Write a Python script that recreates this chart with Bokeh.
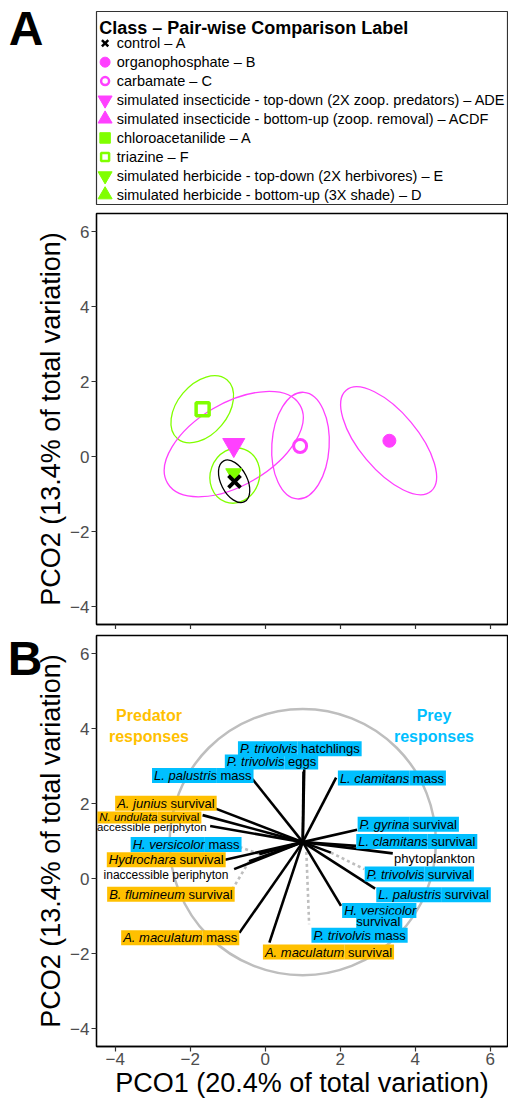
import math
from bokeh.plotting import figure
from bokeh.models import Range1d, FixedTicker, ColumnDataSource, LinearAxis
from bokeh.layouts import column
from bokeh.embed import file_html
from bokeh.resources import INLINE
from bokeh.core.properties import value

FONT = "Liberation Sans"

# ---------------- data: panel A (class centroids on PCO1 / PCO2) ----------------
classes = ["control", "organophosphate", "carbamate",
           "simulated insecticide - top-down (2X zoop. predators)",
           "simulated insecticide - bottom-up (zoop. removal)",
           "chloroacetanilide", "triazine",
           "simulated herbicide - top-down (2X herbivores)",
           "simulated herbicide - bottom-up (3X shade)"]
pairwise = ["A", "B", "C", "ADE", "ACDF", "A", "F", "E", "D"]
cent_x = [-0.82, 3.31, 0.93, -0.84, -0.84, -0.84, -1.67, -0.84, -0.84]
cent_y = [-0.67, 0.42, 0.28, 0.31, -0.48, -0.50, 1.26, -0.45, -0.48]

# confidence ellipses (class index, centre, full width/height, angle in degrees)
ell_class = [6, 3, 2, 1, 7, 0]
ell_x = [-1.68, -0.84, 0.94, 3.29, -0.81, -0.83]
ell_y = [1.26, 0.33, 0.29, 0.42, -0.51, -0.66]
ell_w = [2.05, 4.10, 2.85, 3.52, 1.49, 1.22]
ell_h = [1.34, 2.19, 1.53, 1.55, 1.31, 0.70]
ell_angle = [50, 30.5, 86.5, -50, 70, 117]

# ---------------- data: panel B (response vectors) ----------------
vec_origin = [1.00, 0.97]
var_italic = ["L. palustris", "A. junius", "N. undulata", "", "H. versicolor",
              "Hydrochara", "", "B. flumineum", "A. maculatum", "A. maculatum",
              "P. trivolvis", "H. versicolor", "L. palustris", "P. trivolvis", "",
              "L. clamitans", "P. gyrina", "L. clamitans", "P. trivolvis", "P. trivolvis"]
var_plain = ["mass", "survival", "survival", "accessible periphyton", "mass",
             "survival", "inaccessible periphyton", "survival", "mass", "survival",
             "mass", "survival", "survival", "survival", "phytoplankton",
             "survival", "survival", "mass", "hatchlings", "eggs"]
var_group = ["prey", "pred", "pred", "none", "prey",
             "pred", "none", "pred", "pred", "pred",
             "prey", "prey", "prey", "prey", "none",
             "prey", "prey", "prey", "prey", "prey"]
vec_x = [-0.34, -1.34, -1.67, -1.47, -0.16, -1.07, -0.83, -0.43, -0.69, 0.11,
         1.09, 2.02, 2.93, 1.75, 3.40, 2.42, 2.45, 1.89, 1.04, 1.02]
vec_y = [2.65, 1.87, 1.69, 1.40, 0.65, 0.50, 0.25, 0.46, -1.45, -1.71,
         0.87, -0.73, -0.27, 0.69, 0.67, 0.87, 1.30, 2.69, 2.92, 2.85]
lab_x = [-1.29, -2.62, -2.87, -4.57, -1.61, -2.38, -4.40, -2.14, -1.67, 2.11,
         2.82, 3.04, 4.69, 4.24, 3.34, 4.33, 3.84, 3.84, 0.86, 0.51]
lab_y = [2.75, 2.01, 1.63, 1.38, 0.91, 0.50, 0.09, -0.42, -1.58, -1.96,
         -1.51, -0.85, -0.43, 0.12, 0.54, 0.99, 1.45, 2.68, 3.46, 3.11]
lead_x = [None, None, None, None, -0.91, None, None, -0.87, None, None,
          1.17, None, None, 2.64, None, None, None, None, None, None]
lead_y = [None, None, None, None, 0.92, None, None, -0.28, None, None,
          -1.22, None, None, 0.25, None, None, None, None, None, None]
circle_r = 3.55
group_title = ["Predator", "responses", "Prey", "responses"]
group_title_x = [-3.10, -3.10, 4.50, 4.50]
group_title_y = [4.34, 3.80, 4.34, 3.80]

ticks = [-4, -2, 0, 2, 4, 6]
x_title = "PCO1 (20.4% of total variation)"
y_title = "PCO2 (13.4% of total variation)"
panel_letters = ["A", "B"]

# ---------------- styles ----------------
MAG, GRN = "#FF40FF", "#80FF00"
BLUE, ORNG = "#00BFFF", "#FFC000"
NBSP = "\u00a0"
cls_color = ["black", MAG, MAG, MAG, MAG, GRN, GRN, GRN, GRN]
cls_marker = ["x", "circle", "circle", "inverted_triangle", "triangle",
              "square", "square", "inverted_triangle", "triangle"]
cls_hollow = [False, False, True, False, False, False, True, False, False]
size_A = [17, 13, 13, 22, 9, 8, 13, 16, 9]
lw_A = [3.8, 1, 3, 1, 1, 1, 3.5, 1, 1]
size_leg = [9, 10, 8, 14, 14, 10.5, 8, 14, 14]
lw_leg = [2.5, 1, 2.5, 1, 1, 1, 2.5, 1, 1]
draw_order = [4, 8, 5, 7, 3, 6, 2, 1, 0]
lab_fs = [13, 13, 11.4, 11.4, 13, 13, 12, 13, 13, 13,
          13, 13, 13, 13, 13, 13, 13, 13, 13, 13]
lab_stack = [i == 11 for i in range(20)]
grp_bg = {"prey": BLUE, "pred": ORNG, "none": None}

FW, FH = 411, 411
XR = (-4.50, 6.46)
YR = (-4.48, 6.48)


def style_axes(p, show_x):
    p.outline_line_color = "black"
    p.outline_line_width = 1.3
    p.xgrid.visible = False
    p.ygrid.visible = False
    for ax in p.axis:
        ax.ticker = FixedTicker(ticks=ticks)
        ax.axis_line_color = "black"
        ax.axis_line_width = 1.3
        ax.major_tick_out = 5
        ax.major_tick_in = 0
        ax.major_tick_line_color = "#333333"
        ax.major_tick_line_width = 1.2
        ax.minor_tick_line_color = None
        ax.major_label_text_font = FONT
        ax.major_label_text_font_size = "17px"
        ax.major_label_text_color = "#4D4D4D"
        ax.major_label_standoff = 2
        ax.axis_label_text_font = FONT
        ax.axis_label_text_font_size = "27px"
        ax.axis_label_text_font_style = "normal"
        ax.axis_label_text_color = "black"
        ax.axis_label_standoff = 1
    p.yaxis.axis_label = y_title
    if show_x:
        p.xaxis.axis_label = x_title
        p.xaxis.major_label_standoff = 1
        p.xaxis.axis_label_standoff = 0
    else:
        p.xaxis.major_label_text_font_size = "1px"
        p.xaxis.major_label_text_color = None
        p.xaxis.major_label_standoff = 0


def letter_axis(letter, tick, standoff):
    # panel letter drawn as the single tick label of an extra, line-less left axis
    return LinearAxis(ticker=FixedTicker(ticks=[tick]), major_label_overrides={tick: letter},
                      axis_line_color=None, major_tick_line_color=None, minor_tick_line_color=None,
                      major_tick_out=0, major_tick_in=0, major_label_standoff=standoff,
                      major_label_text_font=FONT, major_label_text_font_size="48px",
                      major_label_text_font_style="bold", major_label_text_color="black")


# ---------------- legend figure ----------------
LH = 193
pL = figure(frame_width=FW, frame_height=LH, x_range=Range1d(0, FW), y_range=Range1d(LH, 0),
            min_border_left=96, min_border_right=1, min_border_top=11, min_border_bottom=4,
            x_axis_type=None, y_axis_type=None, toolbar_location=None, output_backend="svg")
pL.outline_line_color = "#333333"
pL.outline_line_width = 1.2
pL.xgrid.visible = False
pL.ygrid.visible = False
row_y = [31.7 + 18.95 * i for i in range(len(classes))]
leg_src = ColumnDataSource(dict(
    x=[8.6] * len(classes), y=row_y, marker=cls_marker, color=cls_color,
    fa=[0 if h else 1 for h in cls_hollow], size=size_leg, lw=lw_leg))
pL.scatter(x="x", y="y", marker="marker", size="size", line_color="color", fill_color="color",
           fill_alpha="fa", line_width="lw", source=leg_src)
pL.text(x=[20.3] * len(classes), y=row_y,
        text=[f"{c} – {k}" for c, k in zip(classes, pairwise)],
        text_font=value(FONT), text_font_size="14.5px", text_baseline="middle", text_color="black")
pL.text(x=[2.7], y=[16.6], text=["Class – Pair-wise Comparison Label"], text_font=value(FONT),
        text_font_size="18px", text_font_style="bold", text_baseline="alphabetic", text_color="black")
pL.add_layout(letter_axis(panel_letters[0], 17, 53), "left")

# ---------------- panel A ----------------
pA = figure(frame_width=FW, frame_height=FH, x_range=Range1d(*XR), y_range=Range1d(*YR),
            min_border_left=96, min_border_right=1, min_border_top=5, min_border_bottom=0,
            toolbar_location=None, output_backend="svg")
style_axes(pA, False)
pA.ellipse(x=ell_x, y=ell_y, width=ell_w, height=ell_h, angle=ell_angle, angle_units="deg",
           fill_color=None, line_color=[cls_color[k] for k in ell_class], line_width=1.3)
srcA = ColumnDataSource(dict(
    x=[cent_x[i] for i in draw_order], y=[cent_y[i] for i in draw_order],
    marker=[cls_marker[i] for i in draw_order], color=[cls_color[i] for i in draw_order],
    fa=[0 if cls_hollow[i] else 1 for i in draw_order],
    size=[size_A[i] for i in draw_order], lw=[lw_A[i] for i in draw_order]))
pA.scatter(x="x", y="y", marker="marker", size="size", line_color="color", fill_color="color",
           fill_alpha="fa", line_width="lw", source=srcA)

# ---------------- panel B ----------------
pB = figure(frame_width=FW, frame_height=FH, x_range=Range1d(*XR), y_range=Range1d(*YR),
            min_border_left=96, min_border_right=1, min_border_top=6, min_border_bottom=0,
            toolbar_location=None, output_backend="svg")
style_axes(pB, True)
pB.add_layout(letter_axis(panel_letters[1], 6, -9), "left")
pB.circle(x=[vec_origin[0]], y=[vec_origin[1]], radius=circle_r, fill_color=None,
          line_color="#BEBEBE", line_width=2.5)
li = [i for i in range(len(vec_x)) if lead_x[i] is not None]
pB.segment(x0=[vec_x[i] for i in li], y0=[vec_y[i] for i in li],
           x1=[lead_x[i] for i in li], y1=[lead_y[i] for i in li],
           line_color="#BEBEBE", line_width=2.6, line_dash="3 3")
pB.segment(x0=[vec_origin[0]] * len(vec_x), y0=[vec_origin[1]] * len(vec_y), x1=vec_x, y1=vec_y,
           line_color="black", line_width=2.6)

for grp in ["none", "pred", "prey"]:
    it = dict(x=[], y=[], text=[], fs=[], align=[])
    rg = dict(x=[], y=[], text=[], fs=[], align=[], yo=[])
    for i in range(len(vec_x)):
        if var_group[i] != grp:
            continue
        fs = lab_fs[i]
        if lab_stack[i]:
            it["x"].append(lab_x[i]); it["y"].append(lab_y[i]); it["text"].append(var_italic[i])
            it["fs"].append(f"{fs}px"); it["align"].append("center")
            rg["x"].append(lab_x[i]); rg["y"].append(lab_y[i]); rg["text"].append(var_plain[i])
            rg["fs"].append(f"{fs}px"); rg["align"].append("center"); rg["yo"].append(11.5)
            continue
        if var_italic[i]:
            it["x"].append(lab_x[i]); it["y"].append(lab_y[i]); it["text"].append(var_italic[i])
            it["fs"].append(f"{fs}px"); it["align"].append("right")
        rg["x"].append(lab_x[i]); rg["y"].append(lab_y[i]); rg["text"].append(NBSP + var_plain[i])
        rg["fs"].append(f"{fs}px"); rg["align"].append("left"); rg["yo"].append(0)
    bg = grp_bg[grp]
    if it["x"]:
        pB.text(x="x", y="y", text="text", source=ColumnDataSource(it), text_font=value(FONT),
                text_font_size="fs", text_font_style="italic", text_align="align",
                text_baseline="middle", text_color="black", background_fill_color=bg,
                text_line_height=1.0, padding=dict(left=2, right=0, top=0, bottom=0))
    pB.text(x="x", y="y", text="text", source=ColumnDataSource(rg), text_font=value(FONT),
            text_font_size="fs", text_align="align", text_baseline="middle", text_color="black",
            y_offset="yo", background_fill_color=bg, text_line_height=1.0,
            padding=dict(left=0, right=2, top=0, bottom=0))

pB.text(x=group_title_x, y=group_title_y, text=group_title, text_font=value(FONT),
        text_font_size="16px", text_font_style="bold", text_align="center", text_baseline="middle",
        text_color=[ORNG, ORNG, BLUE, BLUE])

layout = column(pL, pA, pB)
open("out.html", "w").write(file_html(layout, INLINE))
